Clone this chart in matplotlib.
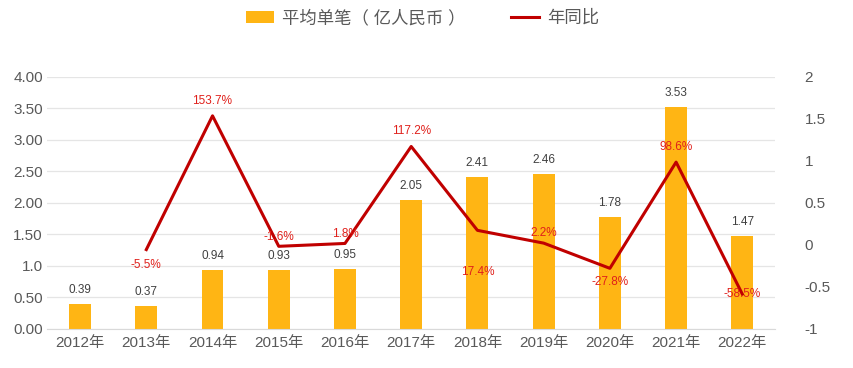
import matplotlib.pyplot as plt
import numpy as np

plt.rcParams['font.family'] = ['Liberation Sans', 'Noto Sans CJK SC', 'DejaVu Sans']

years = ["2012年", "2013年", "2014年", "2015年", "2016年", "2017年",
         "2018年", "2019年", "2020年", "2021年", "2022年"]
avg_amount = [0.39, 0.37, 0.94, 0.93, 0.95, 2.05, 2.41, 2.46, 1.78, 3.53, 1.47]
yoy = [None, -0.055, 1.537, -0.016, 0.018, 1.172, 0.174, 0.022, -0.278, 0.986, -0.585]
yoy_labels = ["", "-5.5%", "153.7%", "-1.6%", "1.8%", "117.2%", "17.4%",
              "2.2%", "-27.8%", "98.6%", "-58.5%"]
left_ticks = [0, 0.5, 1.0, 1.5, 2.0, 2.5, 3.0, 3.5, 4.0]
left_ticklabels = ["0.00", "0.50", "1.0", "1.50", "2.00", "2.50", "3.00", "3.50", "4.00"]
right_ticks = [-1, -0.5, 0, 0.5, 1, 1.5, 2]
right_ticklabels = ["-1", "-0.5", "0", "0.5", "1", "1.5", "2"]

# label offsets in pixels (dy)
yoy_dy = [0, -15, 15, 9, 9, 15, -42, 10, -14, 15, 0]

BAR = "#FFB514"
LINE = "#C00000"
TXT = "#595959"

fig = plt.figure(figsize=(8.54, 3.68), dpi=100)
ax = fig.add_axes([0.055, 0.106, 0.853, 0.685])
x = np.arange(len(years))

bars = ax.bar(x, avg_amount, width=0.33, color=BAR, zorder=2)
for xi, v in zip(x, avg_amount):
    ax.annotate(f"{v:.2f}", (xi, v), xytext=(0, 14 * 0.72), textcoords="offset points",
                ha="center", va="center", fontsize=8.5, color="#404040")

ax.set_xlim(-0.5, len(years) - 0.5)
ax.set_ylim(0, 4)
ax.set_yticks(left_ticks)
ax.set_yticklabels(left_ticklabels)
ax.set_xticks(x)
ax.set_xticklabels(years)
ax.tick_params(axis="both", length=0, labelsize=11, labelcolor=TXT)
ax.tick_params(axis="x", pad=5)
ax.tick_params(axis="y", pad=3)
ax.grid(axis="y", color="#E5E5E5", linewidth=0.9, zorder=0)
for s in ["top", "right", "left"]:
    ax.spines[s].set_visible(False)
ax.spines["bottom"].set_color("#D9D9D9")

ax2 = ax.twinx()
xs = [xi for xi, v in zip(x, yoy) if v is not None]
vs = [v for v in yoy if v is not None]
line, = ax2.plot(xs, vs, color=LINE, linewidth=2.2, zorder=3)
for xi, v, lab, dy in zip(x, yoy, yoy_labels, yoy_dy):
    if v is None:
        continue
    ax2.annotate(lab, (xi, v), xytext=(0, dy * 0.72), textcoords="offset points",
                 ha="center", va="center", fontsize=8.5, color="#E0201B")
ax2.set_ylim(-1, 2)
ax2.set_yticks(right_ticks)
ax2.set_yticklabels(right_ticklabels)
ax2.tick_params(axis="y", length=0, labelsize=11, labelcolor=TXT, pad=21)
for s in ax2.spines.values():
    s.set_visible(False)

fig.legend([bars, line], ["平均单笔（ 亿人民币 ）", "年同比"], loc="upper center",
           bbox_to_anchor=(0.495, 1.018), ncol=2, frameon=False, fontsize=12.5,
           labelcolor=TXT, handlelength=1.6, columnspacing=2.6, handletextpad=0.5)

fig.savefig("out.png", dpi=100)
